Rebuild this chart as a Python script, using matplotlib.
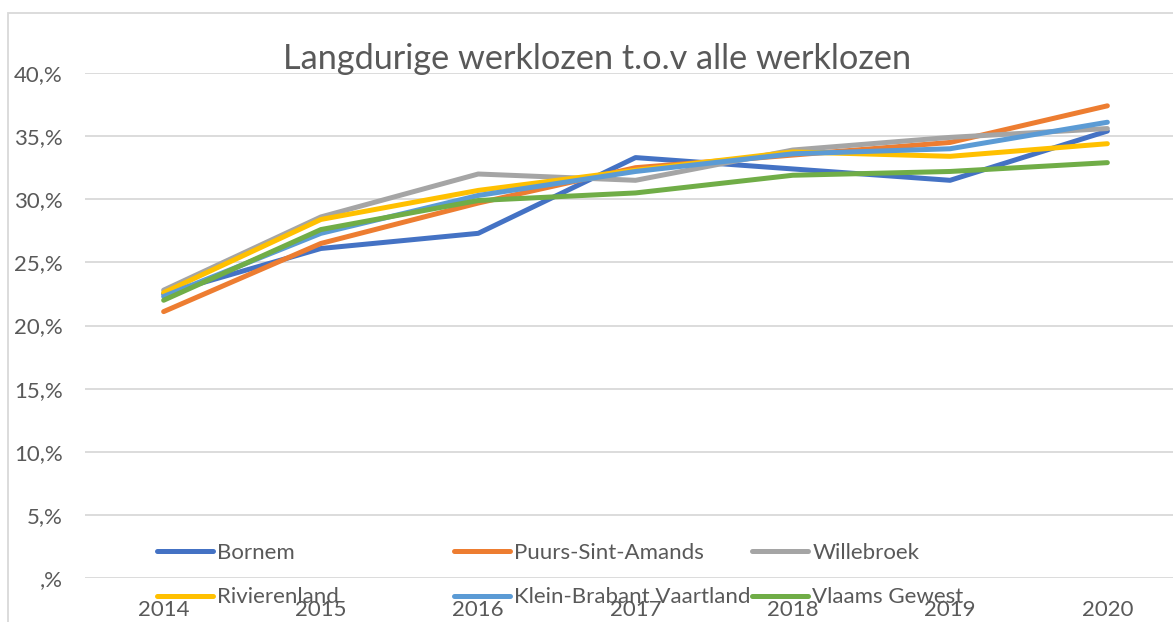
import matplotlib
matplotlib.use("Agg")
import matplotlib.pyplot as plt
from matplotlib.patches import Rectangle

plt.rcParams['font.family'] = ['Lato', 'DejaVu Sans']

years = ["2014", "2015", "2016", "2017", "2018", "2019", "2020"]

bornem = [22.5, 26.1, 27.3, 33.3, 32.4, 31.5, 35.4]
puurs_sint_amands = [21.1, 26.5, 29.7, 32.5, 33.5, 34.5, 37.4]
willebroek = [22.8, 28.6, 32.0, 31.5, 33.9, 34.9, 35.6]
rivierenland = [22.6, 28.4, 30.7, 32.3, 33.75, 33.4, 34.4]
klein_brabant = [22.3, 27.3, 30.3, 32.2, 33.6, 34.0, 36.1]
vlaams_gewest = [22.0, 27.6, 29.9, 30.5, 31.9, 32.2, 32.9]

series = [
    ("Bornem", bornem, "#4472C4"),
    ("Puurs-Sint-Amands", puurs_sint_amands, "#ED7D31"),
    ("Willebroek", willebroek, "#A5A5A5"),
    ("Rivierenland", rivierenland, "#FFC000"),
    ("Klein-Brabant Vaartland", klein_brabant, "#5B9BD5"),
    ("Vlaams Gewest", vlaams_gewest, "#70AD47"),
]

TEXT = "#595959"
W, H = 1173, 622

fig = plt.figure(figsize=(W / 100, H / 100), dpi=100)
ax = fig.add_axes([85 / W, 44 / H, 1101 / W, 505 / H])

# chart border (only top/left visible, rest cropped)
fig.patches.append(Rectangle((8 / W, -0.1), 1.2, 1 - 13 / H + 0.1, transform=fig.transFigure,
                             fill=False, edgecolor="#D9D9D9", lw=1.3))

x = list(range(len(years)))
lines = []
for name, vals, col in series:
    ln, = ax.plot(x, vals, color=col, lw=3.6, solid_capstyle="round",
                  solid_joinstyle="round", label=name)
    lines.append(ln)

ax.set_xlim(-0.5, 6.5)
ax.set_ylim(0, 40)
ax.set_yticks(range(0, 41, 5))
ax.set_yticklabels([f"{v}," + "%" if v else ",%" for v in range(0, 41, 5)])
ax.set_xticks(x)
ax.set_xticklabels(years)
ax.yaxis.grid(True, color="#D9D9D9", lw=1.3)
ax.set_axisbelow(True)
for s in ax.spines.values():
    s.set_visible(False)
ax.tick_params(axis="y", length=0, pad=16, labelsize=16, labelcolor=TEXT)
ax.tick_params(axis="x", length=0, pad=16, labelsize=16, labelcolor=TEXT)

fig.text(597 / W, 1 - 69 / H, "Langdurige werklozen t.o.v alle werklozen",
         ha="center", va="baseline", fontsize=24.7, color=TEXT)

# legend: three columns of two rows, Excel-style fixed column positions
col_x = [157, 454, 752]
for i, cx in enumerate(col_x):
    hs = [lines[i], lines[i + 3]]
    leg = fig.legend(hs, [h.get_label() for h in hs], loc="center left",
                     bbox_to_anchor=(cx / W, 1 - 575 / H), frameon=False,
                     ncol=1, fontsize=16, handlelength=2.5, handletextpad=0.22,
                     borderpad=0, borderaxespad=0, labelspacing=1.12,
                     labelcolor=TEXT)

fig.savefig("out.png", dpi=100)
